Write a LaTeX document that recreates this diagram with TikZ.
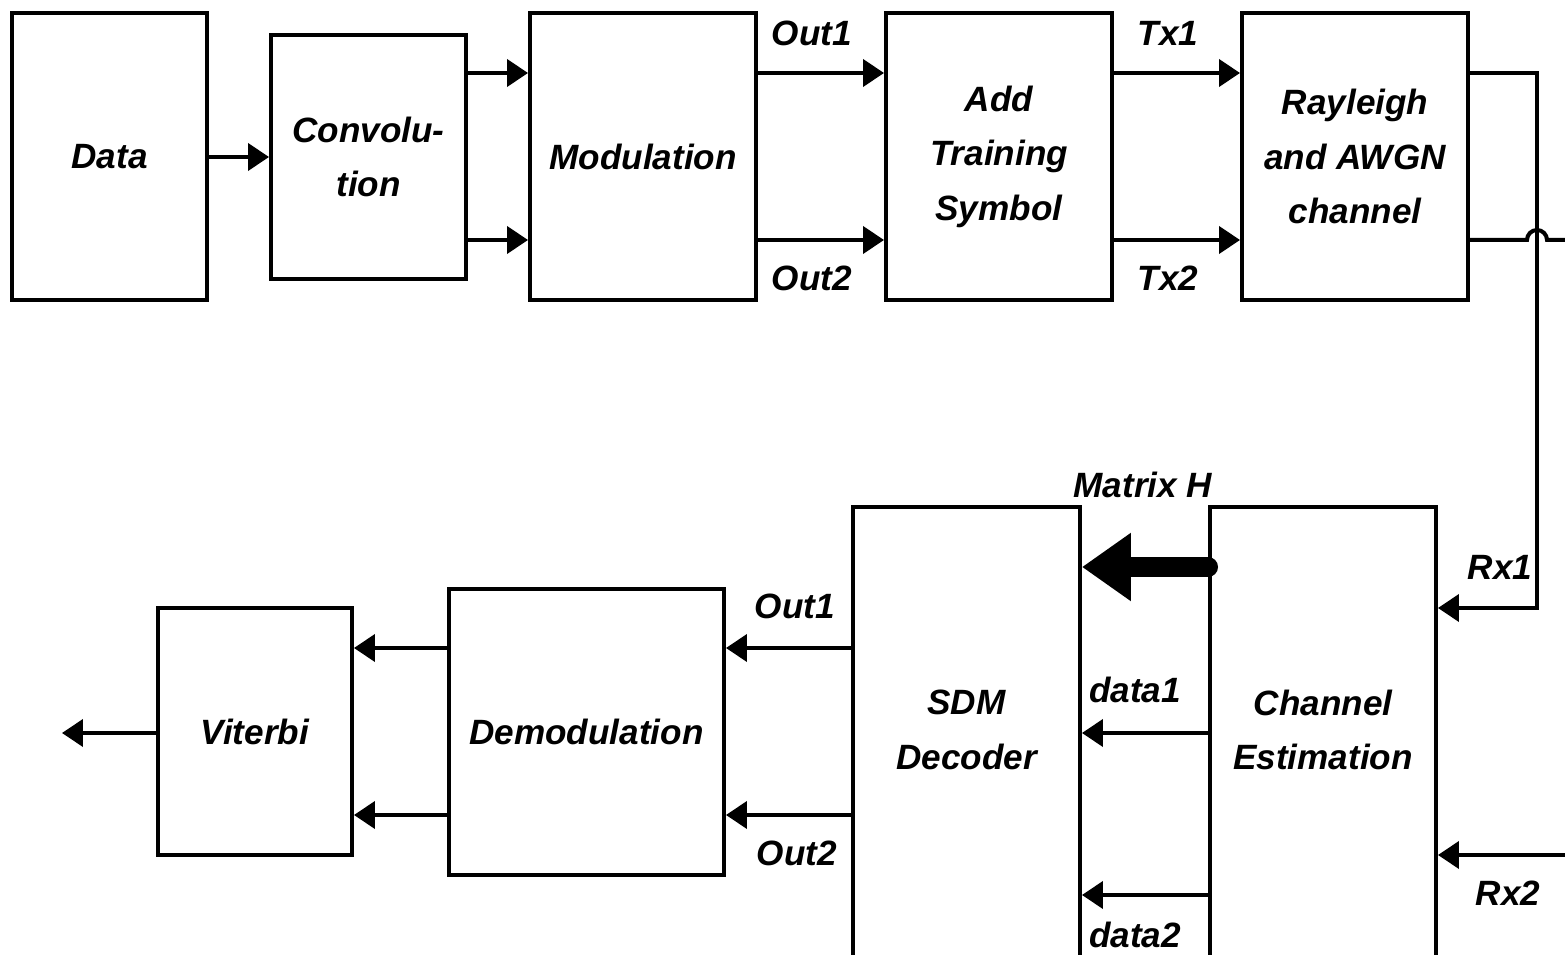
\documentclass[tikz,border=0pt]{standalone}
\usepackage{fontspec}
\setmainfont{Liberation Sans}
\usetikzlibrary{arrows.meta}
\begin{document}
\begin{tikzpicture}[x=0.02cm,y=-0.02cm,
  font=\fontsize{20}{31}\selectfont\bfseries\itshape,
  box/.style={draw,line width=0.08cm,inner sep=0pt},
  txt/.style={align=center,inner sep=0pt},
  lbl/.style={inner sep=0pt},
  wire/.style={line width=0.08cm},
  arr/.style={line width=0.08cm,-{Triangle[length=0.42cm,width=0.54cm]}},
  bigarr/.style={line width=0.4cm,line cap=round,-{Triangle[length=0.98cm,width=1.3cm]}}]
\clip (0,0) rectangle (1565,955);
\fill[white] (0,0) rectangle (1565,955);
% top row
\node[box,minimum width=3.9cm,minimum height=5.74cm] (data) at (109.5,156.5) {};
\node[txt] at (data.center) {Data};
\node[box,minimum width=3.9cm,minimum height=4.88cm] (conv) at (368.5,157) {};
\node[txt] at (conv.center) {Convolu-\\tion};
\node[box,minimum width=4.52cm,minimum height=5.74cm] (mod) at (643,156.5) {};
\node[txt] at (mod.center) {Modulation};
\node[box,minimum width=4.52cm,minimum height=5.74cm] (add) at (999,156.5) {};
\node[txt] at (add.center) {Add\\Training\\Symbol};
\node[box,minimum width=4.52cm,minimum height=5.74cm] (ray) at (1355,156.5) {};
\node[txt] at (ray.center) {Rayleigh\\and AWGN\\channel};
% bottom row
\node[box,minimum width=3.88cm,minimum height=4.94cm] (vit) at (255,731.5) {};
\node[txt] at (vit.center) {Viterbi};
\node[box,minimum width=5.5cm,minimum height=5.72cm] (demod) at (586.5,732) {};
\node[txt] at (demod.center) {Demodulation};
\node[box,minimum width=4.54cm,minimum height=9.86cm] (sdm) at (966.5,753.5) {};
\node[txt] (sdmt) at (966.5,730) {SDM\\Decoder};
\node[box,minimum width=4.52cm,minimum height=9.86cm] (chan) at (1323,753.5) {};
\node[txt] (chant) at (1323,730) {Channel\\Estimation};
% coordinates
\coordinate (c1) at (1537,73);
\coordinate (c2) at (1537,608);
\coordinate (hopL) at (1527,240);
\coordinate (edgeA) at (1570,240);
\coordinate (edgeB) at (1570,855);
\coordinate (outV) at (62,733);
% top connectors
\draw[arr] (data.east |- 0,157) -- (conv.west |- 0,157);
\draw[arr] (conv.east |- 0,73) -- (mod.west |- 0,73);
\draw[arr] (conv.east |- 0,240) -- (mod.west |- 0,240);
\draw[arr] (mod.east |- 0,73) -- (add.west |- 0,73);
\draw[arr] (mod.east |- 0,240) -- (add.west |- 0,240);
\draw[arr] (add.east |- 0,73) -- (ray.west |- 0,73);
\draw[arr] (add.east |- 0,240) -- (ray.west |- 0,240);
\draw[arr] (ray.east |- 0,73) -- (c1) -- (c2) -- (chan.east |- c2);
\draw[wire] (ray.east |- 0,240) -- (hopL) arc[start angle=180,end angle=0,radius=0.2cm] -- (edgeA);
\draw[arr] (edgeB) -- (chan.east |- edgeB);
% bottom connectors
\draw[bigarr] (chan.west |- 0,567) -- (sdm.east |- 0,567);
\draw[arr] (chan.west |- 0,733) -- (sdm.east |- 0,733);
\draw[arr] (chan.west |- 0,895) -- (sdm.east |- 0,895);
\draw[arr] (sdm.west |- 0,648) -- (demod.east |- 0,648);
\draw[arr] (sdm.west |- 0,815) -- (demod.east |- 0,815);
\draw[arr] (demod.west |- 0,648) -- (vit.east |- 0,648);
\draw[arr] (demod.west |- 0,815) -- (vit.east |- 0,815);
\draw[arr] (vit.west |- outV) -- (outV);
% labels
\node[lbl] (l1) at (812,33) {Out1};
\node[lbl] (l2) at (812,278) {Out2};
\node[lbl] (l3) at (1168,33) {Tx1};
\node[lbl] (l4) at (1168,278) {Tx2};
\node[lbl] (l5) at (1143,485) {Matrix H};
\node[lbl] (l6) at (1500,567) {Rx1};
\node[lbl] (l7) at (1508,893) {Rx2};
\node[lbl] (l8) at (795,606) {Out1};
\node[lbl] (l9) at (797,853) {Out2};
\node[lbl] (l10) at (1135,690) {data1};
\node[lbl] (l11) at (1135,935) {data2};
\end{tikzpicture}
\end{document}
